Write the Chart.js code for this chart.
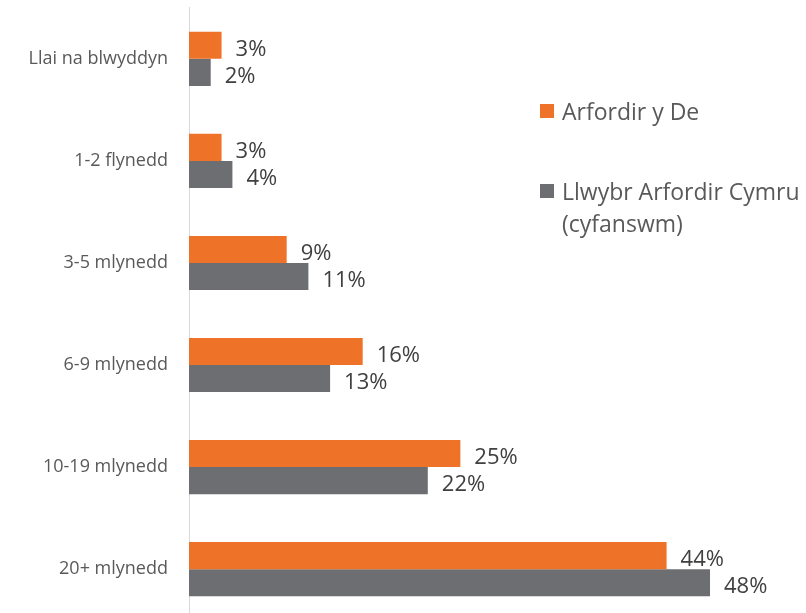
<!DOCTYPE html>
<html>
<head>
<meta charset="utf-8">
<script src="https://cdn.jsdelivr.net/npm/chart.js@4/dist/chart.umd.min.js"></script>
<style>
    html, body { margin: 0; padding: 0; background: #fff; overflow: hidden; }
    #wrap { position: relative; width: 806px; height: 613px; overflow: hidden; }
    #chart { position: absolute; left: 0; top: -16px; }
    .legend { position: absolute; left: 540px; font-family: "Open Sans", sans-serif; font-size: 23px; color: #595959; line-height: 32px; }
    .legend .box { position: absolute; left: 0; top: 9px; width: 14px; height: 14px; }
    .legend .txt { margin-left: 22px; white-space: nowrap; }
</style>
</head>
<body>
<div id="wrap">
    <canvas id="chart" width="806" height="660"></canvas>
    <div class="legend" style="top: 95px;"><span class="box" style="background:#ee7228"></span><div class="txt">Arfordir y De</div></div>
    <div class="legend" style="top: 175px;"><span class="box" style="background:#6d6e71"></span><div class="txt">Llwybr Arfordir Cymru<br>(cyfanswm)</div></div>
</div>
<script>
// Categorïau a gwerthoedd (%)
const categories = ['Llai na blwyddyn', '1-2 flynedd', '3-5 mlynedd', '6-9 mlynedd', '10-19 mlynedd', '20+ mlynedd'];
const arfordirDe = [3, 3, 9, 16, 25, 44];
const cymruCyfan = [2, 4, 11, 13, 22, 48];
const seriesNames = ['Arfordir y De', 'Llwybr Arfordir Cymru (cyfanswm)'];

const FONT = '"Open Sans", sans-serif';

// Labeli gwerth ar ben pob bar
const valueLabels = {
    id: 'valueLabels',
    afterDatasetsDraw(chart) {
        const ctx = chart.ctx;
        ctx.save();
        ctx.font = '22px ' + FONT;
        ctx.fillStyle = '#404040';
        ctx.textAlign = 'left';
        ctx.textBaseline = 'middle';
        chart.data.datasets.forEach((ds, i) => {
            chart.getDatasetMeta(i).data.forEach((bar, j) => {
                ctx.fillText(ds.data[j] + '%', bar.x + 14, bar.y + 4);
            });
        });
        ctx.restore();
    }
};

new Chart(document.getElementById('chart'), {
    type: 'bar',
    data: {
        labels: categories,
        datasets: [
            { label: seriesNames[0], data: arfordirDe, backgroundColor: '#ee7228' },
            { label: seriesNames[1], data: cymruCyfan, backgroundColor: '#6d6e71' }
        ]
    },
    options: {
        indexAxis: 'y',
        responsive: false,
        animation: false,
        datasets: { bar: { categoryPercentage: 0.53, barPercentage: 1.0 } },
        layout: { padding: { top: 8, bottom: 0, left: 0, right: 20 } },
        scales: {
            x: { display: false, min: 0, max: 55 },
            y: {
                afterFit: s => { s.width = 189; },
                grid: { display: false },
                border: { display: true, color: '#d9d9d9', width: 1 },
                ticks: { color: '#595959', font: { family: FONT, size: 18 }, padding: 13 }
            }
        },
        plugins: { legend: { display: false }, tooltip: { enabled: false } }
    },
    plugins: [valueLabels]
});
</script>
</body>
</html>
